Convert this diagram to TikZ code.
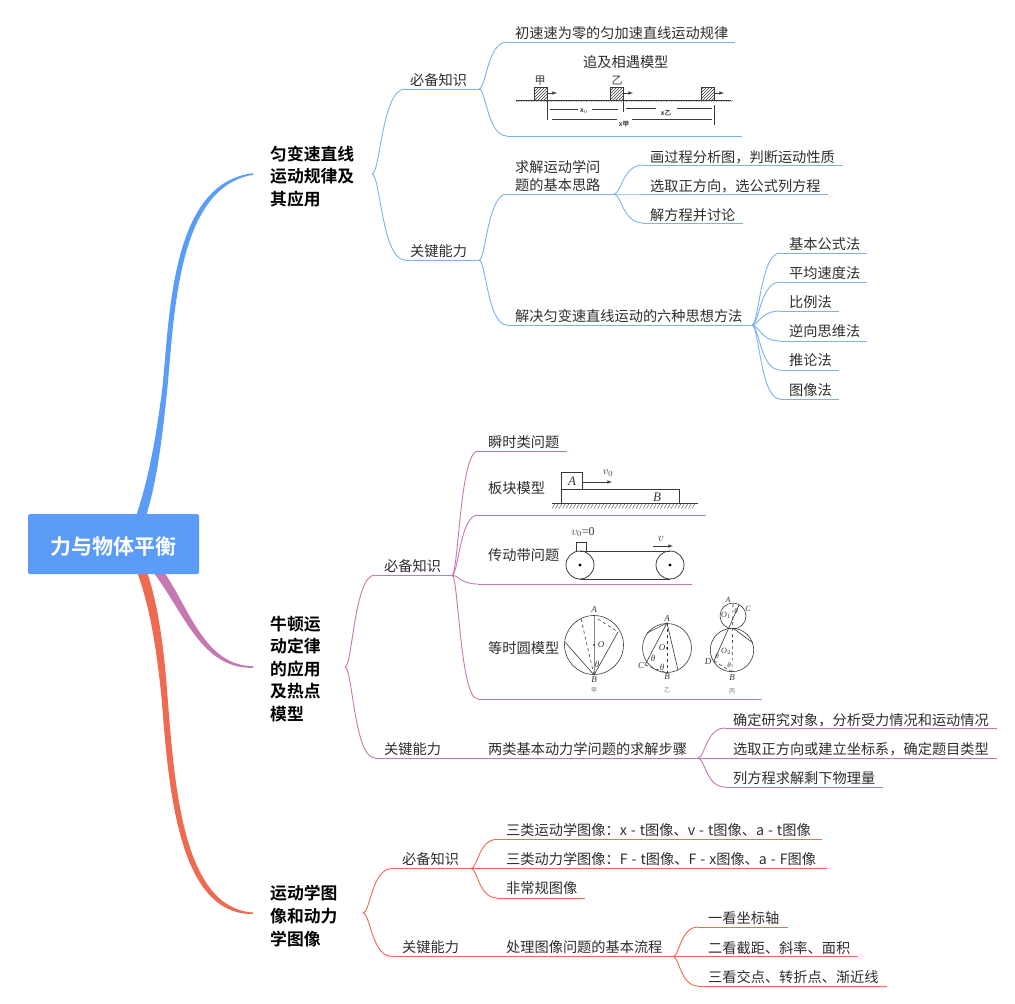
\documentclass[tikz,border=0pt]{standalone}
\usepackage{fontspec}
\setmainfont{Noto Sans CJK SC}[BoldFont={Noto Sans CJK SC Bold}]
\newfontfamily\serfont{Liberation Serif}
\usetikzlibrary{calc,patterns}
\definecolor{bl}{HTML}{5A9CF8}
\definecolor{blline}{HTML}{7DB2F2}
\definecolor{pu}{HTML}{C678B0}
\definecolor{re}{HTML}{EE6A50}
\definecolor{ink}{HTML}{2E2E2E}
\definecolor{sk}{HTML}{3A3A3A}
\tikzset{
 lab/.style={inner sep=0pt,anchor=west,text=ink,yshift=-0.8pt,font=\fontsize{14.2}{18}\selectfont,align=left},
 head/.style={inner sep=0pt,anchor=west,text=black,font=\fontsize{16.8}{22.6}\selectfont\bfseries,align=left},
 conn/.style={line width=0.9pt},
 sketch/.style={line width=0.6pt,draw=sk},
 tiny/.style={inner sep=0pt,text=sk,font=\fontsize{9}{10}\selectfont\serfont\itshape},
 tinyb/.style={inner sep=0pt,text=sk,font=\fontsize{6.5}{7}\selectfont\bfseries},
 tinycn/.style={inner sep=0pt,text=sk!70,font=\fontsize{6}{7}\selectfont},
}
\newcommand{\dsh}{\hspace{4pt}-\hspace{4pt}}
\newcommand{\fcm}{\symbol{"FF0C}}
\newcommand{\fcl}{\symbol{"FF1A}}
% name, line start, text x, line end, line y, text y, text, colour
\newcommand{\leaf}[8]{%
 \coordinate (#1L) at (#2,#5);
 \coordinate (#1R) at (#4,#5);
 \node[lab] (#1) at (#3,#6) {#7};
 \draw[conn,#8] (#1L) -- (#1R);
}
\newcommand{\lnk}[3]{%
 \coordinate (mA) at ($(#1)!.25!(#2)$);
 \coordinate (mB) at ($(#1)!.3!(#2)$);
 \draw[conn,#3] (#1) .. controls (mA |- #1) and (mB |- #2) .. (#2);
}
\newcommand{\gticks}[3]{% x1,x2,y
 \foreach \q in {#1,555.5,...,#2}{\draw[sketch,line width=0.35pt] (\q+3,#3) -- (\q,#3+5);}
}
\begin{document}
\begin{tikzpicture}[x=1pt,y=-1pt]
\useasboundingbox (0,0) rectangle (1015,1004);
\fill[white] (0,0) rectangle (1015,1004);

% main branches (tapered)
\fill[bl] (136,516) .. controls (150,475) and (157,430) .. (162.5,387)
  .. controls (170,310) and (172,183) .. (253,173.2)
  -- (253,174.8) .. controls (178,187) and (174.5,312) .. (167.5,387)
  .. controls (163,430) and (158,478) .. (146,516) -- cycle;
\fill[pu] (164,572) .. controls (190,610) and (205,665.5) .. (253,666.2)
  -- (253,667.8) .. controls (201,669) and (184,612) .. (153,572) -- cycle;
\fill[re] (137,572) .. controls (152,612) and (158,662) .. (162,703)
  .. controls (169,795) and (180,915) .. (253,914)
  -- (253,912.5) .. controls (184,908) and (175,790) .. (168,703)
  .. controls (165,660) and (160,610) .. (147,572) -- cycle;

% root
\node[fill=bl,rounded corners=1.5pt,minimum width=171pt,minimum height=60pt,inner sep=0pt,text=white,font=\fontsize{21}{24}\selectfont\bfseries] (root) at (113.5,544) {\raisebox{0pt}[24pt][3pt]{力与物体平衡}};

% ---------- blue ----------
\node[head] (hA) at (270,176.5) {匀变速直线\\运动规律及\\其应用};
\coordinate (hAe) at (372,174);
\leaf{a1}{405}{410}{479}{89}{79}{必备知识}{blline}
\leaf{a2}{405}{410}{479}{260}{250}{关键能力}{blline}
\lnk{hAe}{a1L}{blline}
\lnk{hAe}{a2L}{blline}
\leaf{a11}{507}{515}{735}{42}{32}{初速速为零的匀加速直线运动规律}{blline}
\leaf{a12}{507}{583}{742}{136}{61}{追及相遇模型}{blline}
\lnk{a1R}{a11L}{blline}
\lnk{a1R}{a12L}{blline}
\leaf{a21}{507}{515}{614}{194}{175}{求解运动学问\\题的基本思路}{blline}
\leaf{a22}{507}{515}{752}{325}{315}{解决匀变速直线运动的六种思想方法}{blline}
\lnk{a2R}{a21L}{blline}
\lnk{a2R}{a22L}{blline}
\leaf{b1}{643}{650}{843}{165}{156}{画过程分析图\fcm 判断运动性质}{blline}
\leaf{b2}{643}{650}{828}{194}{185}{选取正方向\fcm 选公式列方程}{blline}
\leaf{b3}{643}{650}{743}{223}{214}{解方程并讨论}{blline}
\lnk{a21R}{b1L}{blline}
\lnk{a21R}{b2L}{blline}
\lnk{a21R}{b3L}{blline}
\leaf{c1}{780}{789}{867}{253}{243}{基本公式法}{blline}
\leaf{c2}{780}{789}{867}{282}{272}{平均速度法}{blline}
\leaf{c3}{780}{789}{839}{311}{301}{比例法}{blline}
\leaf{c4}{780}{789}{867}{341}{330}{逆向思维法}{blline}
\leaf{c5}{780}{789}{839}{370}{359}{推论法}{blline}
\leaf{c6}{780}{789}{839}{399}{389}{图像法}{blline}
\foreach \kk in {c1,c2,c3,c4,c5,c6}{\lnk{a22R}{\kk L}{blline}}

% pursuit sketch
\draw[sketch] (516,100) -- (731,100);
\foreach \q in {516,518.5,...,731}{\draw[sketch,line width=0.3pt] (\q+2,100) -- (\q,102);}
\foreach \q/\r in {534/547,610/623,701/714}{
 \draw[sketch,pattern=north east lines,pattern color=sk] (\q,87) rectangle (\r,100);
 \draw[sketch,-latex] (\r,93) -- (\r+10,93);
}
\node[tinycn,font=\fontsize{11}{12}\selectfont,text=sk] (ja) at (540,81) {甲};
\node[tinycn,font=\fontsize{11}{12}\selectfont,text=sk] (yi) at (617,81) {乙};
\draw[sketch] (547,100) -- (547,120) (623,100) -- (623,112) (714,105) -- (714,125);
\draw[sketch] (550,109) -- (578,109) (592,109) -- (618,109) (626,108) -- (656,108) (677,108) -- (712,108) (552,119) -- (617,119) (632,119) -- (712,119);
\node[tinyb] (x0) at (584,111) {x$_0$};
\node[tinyb] (xy) at (666,113) {x乙};
\node[tinyb] (xj) at (624,124) {x甲};

% ---------- purple ----------
\node[head] (hB) at (270,669) {牛顿运\\动定律\\的应用\\及热点\\模型};
\coordinate (hBe) at (345,667);
\leaf{d1}{375}{384}{452}{575}{565}{必备知识}{pu}
\leaf{d2}{375}{384}{698}{758}{748}{关键能力}{pu}
\node[lab] (d2b) at (488,748) {两类基本动力学问题的求解步骤};
\lnk{hBe}{d1L}{pu}
\lnk{hBe}{d2L}{pu}
\leaf{e1}{478}{488}{567}{451}{441}{瞬时类问题}{pu}
\leaf{e2}{478}{488}{706}{515}{487}{板块模型}{pu}
\leaf{e3}{478}{488}{692}{584}{554}{传动带问题}{pu}
\leaf{e4}{478}{488}{762}{699}{647}{等时圆模型}{pu}
\foreach \kk in {e1,e2,e3,e4}{\lnk{d1R}{\kk L}{pu}}
\leaf{f1}{725}{733}{997}{728}{719}{确定研究对象\fcm 分析受力情况和运动情况}{pu}
\leaf{f2}{698}{733}{997}{758}{748}{选取正方向或建立坐标系\fcm 确定题目类型}{pu}
\leaf{f3}{725}{733}{883}{787}{777}{列方程求解剩下物理量}{pu}
\lnk{d2R}{f1L}{pu}
\lnk{d2R}{f3L}{pu}

% block sketch
\draw[sketch,line width=0.8pt] (552,503.5) -- (698,503.5);
\gticks{552}{694}{503.5}
\draw[sketch,line width=0.8pt] (561,503.5) -- (561,489) -- (679,489) -- (679,503.5);
\draw[sketch,line width=0.8pt] (561,489) rectangle (582,472);
\draw[sketch,-latex] (582,482) -- (612,482);
\node[tiny,font=\fontsize{13}{14}\selectfont\serfont\itshape] (tA) at (572,481) {A};
\node[tiny,font=\fontsize{13}{14}\selectfont\serfont\itshape] (tB) at (657,497) {B};
\node[tiny,font=\fontsize{11}{12}\selectfont\serfont\itshape] (tv) at (608,473) {$v_0$};

% belt sketch
\foreach \q in {580,670}{
 \draw[sketch,line width=0.8pt] (\q,565) circle (14);
 \fill[black] (\q,565) circle (1.6);
}
\draw[sketch,line width=0.8pt] (580,551) -- (670,551) (580,579) -- (670,579);
\draw[sketch,line width=0.8pt] (576,551) -- (576,542) -- (586,542) -- (586,551);
\node[tiny,font=\fontsize{12}{13}\selectfont\serfont] (tv0) at (583,532) {$v_0$=0};
\node[tiny,font=\fontsize{12}{13}\selectfont\serfont\itshape] (tvv) at (661,539) {$v$};
\draw[sketch,-latex] (653,546) -- (673,546);

% circle sketches
\draw[sketch] (594,645) circle (29.5);
\draw[sketch,draw=sk!60] (594,616) -- (594,675);
\draw[sketch,dashed] (581,619) -- (594,675);
\draw[sketch] (565,642) -- (594,675) -- (618,632);
\draw[sketch,dashed] (598,619) -- (618,632);
\fill[black] (594,645) circle (0.9);
\node[tiny] (o1) at (601,645) {O};
\node[tiny] (a1t) at (594,610) {A};
\node[tiny] (b1t) at (594,680) {B};
\node[tiny] (th1) at (597,664) {θ};
\node[tinycn] (cjia) at (594,690) {甲};

\draw[sketch] (667,648) circle (24.5);
\draw[sketch] (647,633) -- (667,623) -- (645,665);
\draw[sketch,dashed] (667,623) -- (667,673);
\draw[sketch] (667,623) -- (678,670);
\draw[sketch,dashed] (645,665) -- (667,673);
\fill[black] (667,648) circle (0.9);
\node[tiny] (o2) at (662,648) {O};
\node[tiny] (a2t) at (667,619) {A};
\node[tiny] (b2t) at (667,677) {B};
\node[tiny] (c2t) at (641,666) {C};
\node[tiny] (th2) at (653,658) {θ};
\node[tiny] (th3) at (662,667) {θ};
\node[tinycn] (cyi) at (667,690) {乙};

\draw[sketch] (733,616) circle (13);
\draw[sketch] (732,650) circle (21.7);
\draw[sketch] (739,605) -- (714,661);
\draw[sketch,dashed] (733,604) -- (732,672);
\draw[sketch] (733,628) -- (753,643);
\draw[sketch,dashed] (714,661) -- (732,672);
\node[tiny,font=\fontsize{8}{9}\selectfont\serfont\itshape] (a3t) at (728,600) {A};
\node[tiny,font=\fontsize{8}{9}\selectfont\serfont\itshape] (c3t) at (748,609) {C};
\node[tiny,font=\fontsize{8}{9}\selectfont\serfont\itshape] (o3t) at (726,615) {O$_1$};
\node[tiny,font=\fontsize{8}{9}\selectfont\serfont\itshape] (o4t) at (726,651) {O$_2$};
\node[tiny] (d3t) at (708,662) {D};
\node[tiny] (b3t) at (732,678) {B};
\node[tiny,font=\fontsize{7}{8}\selectfont\serfont\itshape] (th4) at (736,611) {θ};
\node[tiny,font=\fontsize{7}{8}\selectfont\serfont\itshape] (th5) at (717,656) {θ};
\node[tiny,font=\fontsize{7}{8}\selectfont\serfont\itshape] (th6) at (729,665) {θ};
\node[tinycn] (cbing) at (732,691) {丙};

% ---------- red ----------
\node[head] (hC) at (270,916) {运动学图\\像和动力\\学图像};
\coordinate (hCe) at (363,913);
\leaf{g1}{392}{402}{471}{868.5}{858}{必备知识}{re}
\leaf{g2}{392}{402}{673}{956.5}{946}{关键能力}{re}
\node[lab] (g2b) at (506,946) {处理图像问题的基本流程};
\lnk{hCe}{g1L}{re}
\lnk{hCe}{g2L}{re}
\leaf{i1}{497}{506}{822}{839.3}{829}{三类运动学图像\fcl x\dsh t图像、v\dsh t图像、a\dsh t图像}{re}
\leaf{i2}{471}{506}{827}{868.5}{858}{三类动力学图像\fcl F\dsh t图像、F\dsh x图像、a\dsh F图像}{re}
\leaf{i3}{497}{506}{585}{898}{887}{非常规图像}{re}
\lnk{g1R}{i1L}{re}
\lnk{g1R}{i3L}{re}
\leaf{k1}{698}{708}{788}{927}{917}{一看坐标轴}{re}
\leaf{k2}{673}{708}{858}{956.5}{947}{二看截距、斜率、面积}{re}
\leaf{k3}{698}{708}{887}{986}{976}{三看交点、转折点、渐近线}{re}
\lnk{g2R}{k1L}{re}
\lnk{g2R}{k3L}{re}
\end{tikzpicture}
\end{document}
